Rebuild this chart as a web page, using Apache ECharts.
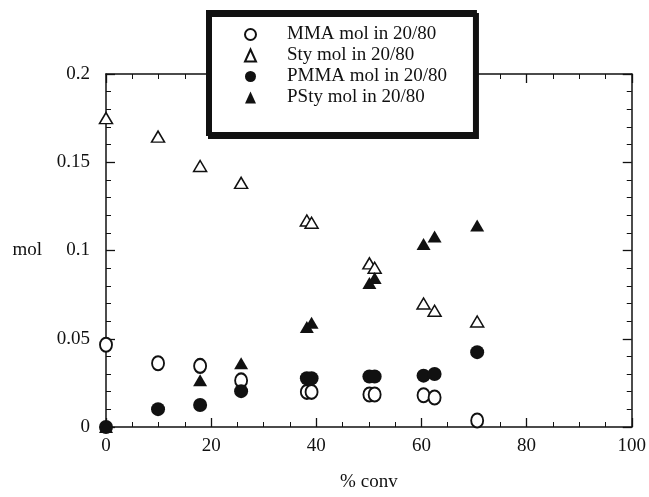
<!DOCTYPE html>
<html>
<head>
<meta charset="utf-8">
<script src="https://cdn.jsdelivr.net/npm/echarts@6/dist/echarts.min.js"></script>
<style>
  html, body { margin: 0; padding: 0; background: #fff; }
  #myChart { width: 649px; height: 497px; }
</style>
</head>
<body>
<div id="myChart"></div>
<script>
// 转化率 (% conv)
var conv = [0, 9.9, 17.9, 25.7, 38.2, 39.1, 50.1, 51.1, 60.4, 62.5, 70.6];
var mmaMol = [0.0466, 0.0361, 0.0346, 0.0264, 0.0199, 0.0199, 0.0184, 0.0184, 0.0180, 0.0167, 0.0037];
var styMol = [0.175, 0.1645, 0.1479, 0.1383, 0.1170, 0.1157, 0.0927, 0.0902, 0.0700, 0.0659, 0.0598];
var pmmaMol = [0, 0.0101, 0.0125, 0.0203, 0.0276, 0.0276, 0.0286, 0.0286, 0.0291, 0.0300, 0.0424];
var pstyMol = [0, null, 0.0265, 0.0361, 0.0567, 0.0590, 0.0816, 0.0844, 0.1037, 0.1079, 0.1142];
var seriesNames = ['MMA mol in 20/80', 'Sty mol in 20/80', 'PMMA mol in 20/80', 'PSty mol in 20/80'];

var font = 'Liberation Serif';
var ink = '#111';

function pairs(ys) {
  var out = [];
  for (var i = 0; i < conv.length; i++) {
    if (ys[i] !== null) out.push([conv[i], ys[i]]);
  }
  return out;
}

function frameAxis(pos, isX) {
  var ax = {
    type: 'value',
    position: pos,
    min: 0,
    max: isX ? 100 : 0.2,
    interval: isX ? 20 : 0.05,
    axisLine: { show: true, onZero: false, lineStyle: { color: ink, width: 1.5 } },
    axisTick: { show: true, inside: true, length: 9, lineStyle: { color: ink, width: 1.3 } },
    minorTick: { show: true, splitNumber: isX ? 4 : 5, length: 5, lineStyle: { color: ink, width: 1 } },
    splitLine: { show: false },
    axisLabel: { show: false }
  };
  return ax;
}

var xBottom = frameAxis('bottom', true);
xBottom.axisLabel = { show: true, margin: 10, fontFamily: font, fontSize: 19, color: ink };
xBottom.name = '% conv';
xBottom.nameLocation = 'middle';
xBottom.nameGap = 46;
xBottom.nameTextStyle = { fontFamily: font, fontSize: 19, color: ink };

var yLeft = frameAxis('left', false);
yLeft.axisLabel = { show: true, margin: 16, fontFamily: font, fontSize: 19, color: ink };
yLeft.name = 'mol';
yLeft.nameLocation = 'middle';
yLeft.nameRotate = 0;
yLeft.nameGap = 64;
yLeft.nameTextStyle = { fontFamily: font, fontSize: 19, color: ink };

var chart = echarts.init(document.getElementById('myChart'), null, { renderer: 'canvas' });

var option = {
  animation: false,
  backgroundColor: '#fff',
  grid: { left: 106, right: 16, top: 74, bottom: 61 },
  xAxis: [xBottom, frameAxis('top', true)],
  yAxis: [yLeft, frameAxis('right', false)],
  legend: {
    orient: 'vertical',
    left: 208,
    top: 12,
    selectedMode: false,
    itemWidth: 11,
    itemHeight: 12,
    itemGap: 2,
    padding: [13, 28, 27, 36],
    backgroundColor: '#fff',
    borderColor: ink,
    borderWidth: 4,
    shadowColor: ink,
    shadowBlur: 0,
    shadowOffsetX: 2,
    shadowOffsetY: 3,
    z: 10,
    textStyle: { fontFamily: font, fontSize: 19, color: ink, padding: [0, 0, 0, 26] },
    data: seriesNames
  },
  series: [
    {
      name: seriesNames[0],
      type: 'scatter',
      clip: false,
      symbol: 'circle',
      symbolSize: [12, 14],
      itemStyle: { color: '#fff', borderColor: ink, borderWidth: 2, opacity: 1 },
      data: pairs(mmaMol)
    },
    {
      name: seriesNames[1],
      type: 'scatter',
      clip: false,
      symbol: 'triangle',
      symbolSize: [13, 11],
      itemStyle: { color: '#fff', borderColor: ink, borderWidth: 1.5, opacity: 1 },
      data: pairs(styMol)
    },
    {
      name: seriesNames[2],
      type: 'scatter',
      clip: false,
      symbol: 'circle',
      symbolSize: 14,
      itemStyle: { color: ink, opacity: 1 },
      data: pairs(pmmaMol)
    },
    {
      name: seriesNames[3],
      type: 'scatter',
      clip: false,
      symbol: 'triangle',
      symbolSize: [14, 12],
      itemStyle: { color: ink, opacity: 1 },
      data: pairs(pstyMol)
    }
  ]
};

option && chart.setOption(option);
</script>
</body>
</html>
